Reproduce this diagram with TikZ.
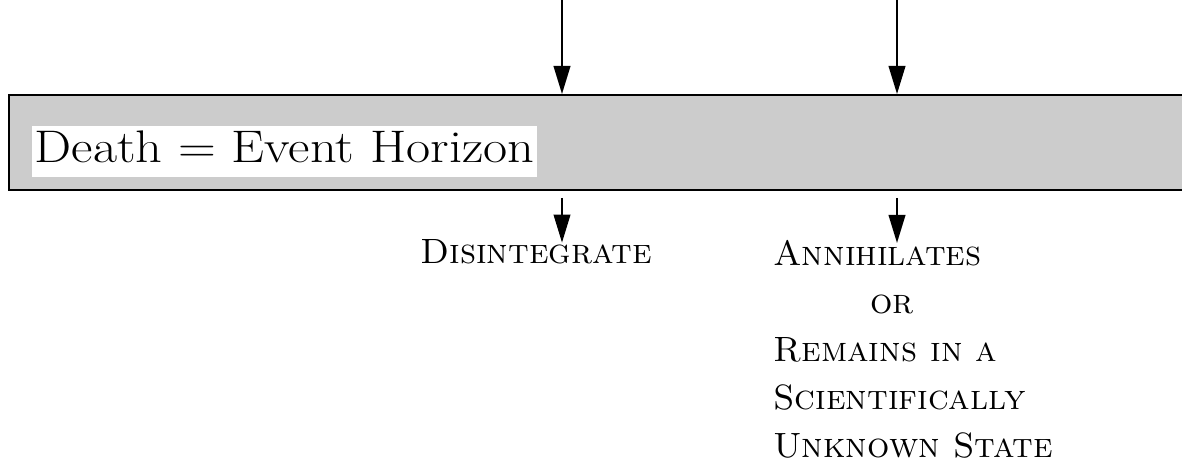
\documentclass[tikz,border=0pt]{standalone}
\usetikzlibrary{arrows.meta}
\definecolor{bandgray}{gray}{0.8}

\begin{document}
\begin{tikzpicture}[
    arr/.style={line width=1.1pt, -{Triangle[length=16pt, width=9.5pt]}},
    band/.style={draw, line width=1.1pt, fill=bandgray, inner sep=0pt,
      minimum width=24.32cm, minimum height=1.9cm},
    result/.style={inner sep=0pt, font=\fontsize{20}{27.3}\selectfont\scshape}
  ]
  \useasboundingbox (0, 0) rectangle (23.64, 9.28);

  \node[band] (horizon) at (12.34, 6.43) {};
  \node[fill=white, inner xsep=1.4pt, inner ysep=2pt, text height=18.9pt, text depth=6.1pt,
    anchor=base, font=\fontsize{26}{30}\selectfont] (death) at (5.69, 6.026)
    {\scalebox{1.148}[1]{Death = Event Horizon}};

  \coordinate (in1) at (11.24, 9.28);
  \coordinate (in2) at (17.94, 9.28);
  \draw[arr] (in1) -- (in1 |- horizon.north);
  \draw[arr] (in2) -- (in2 |- horizon.north);

  \node[result, anchor=base west] (dis) at (8.4, 4.0) {Disintegrate};
  \node[result, anchor=north west, align=left] (ann) at (15.46, 4.48)
    {Annihilates\\ \hspace*{1.94cm}or\\ Remains in a\\ Scientifically\\ Unknown State};

  \draw[arr, shorten >=-1.7pt] ([yshift=-0.14cm]horizon.south -| in1) -- (in1 |- dis.north);
  \draw[arr, shorten >=-1.7pt] ([yshift=-0.14cm]horizon.south -| in2) -- (in2 |- ann.north);
\end{tikzpicture}
\end{document}
